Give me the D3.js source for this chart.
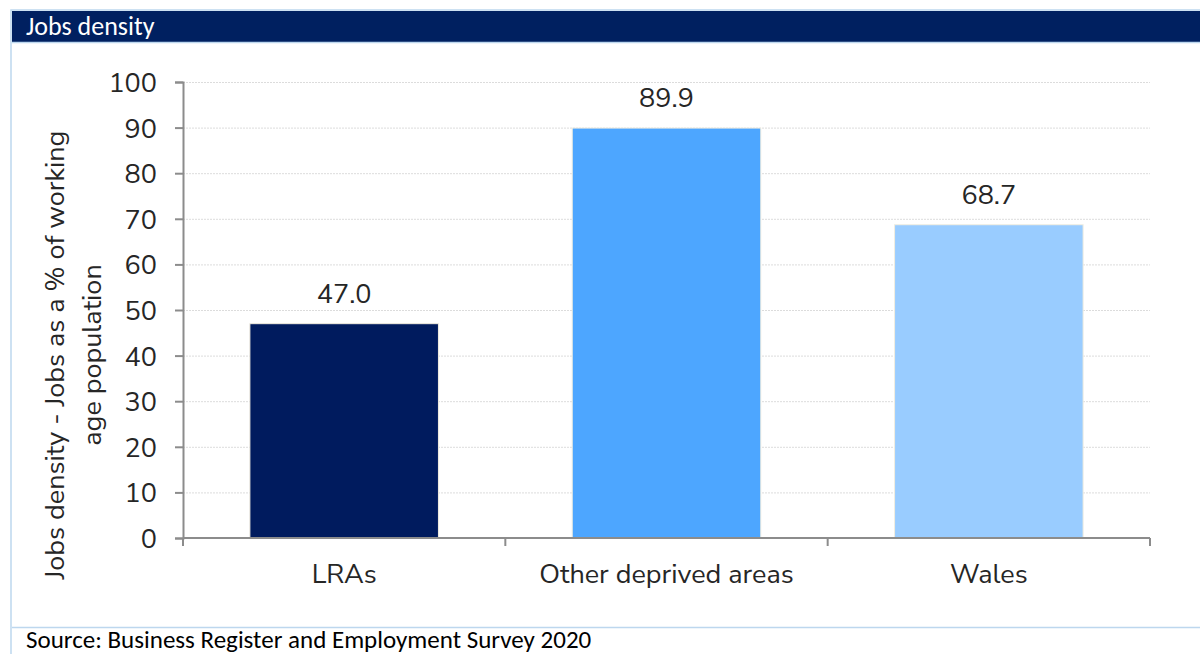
<!DOCTYPE html>
<html>
<head>
<meta charset="utf-8">
<script src="https://cdn.jsdelivr.net/npm/d3@7"></script>
<style>
  body { margin: 0; background: #fff; }
  svg { display: block; }
</style>
</head>
<body>
<svg id="chart" width="1200" height="654"></svg>
<script>
// Jobs density by area type
const categories = ["LRAs", "Other deprived areas", "Wales"];
const values = [47.0, 89.9, 68.7];
const barColors = ["#001b5e", "#4da6ff", "#99ccff"];
const yTicks = [0, 10, 20, 30, 40, 50, 60, 70, 80, 90, 100];

const svg = d3.select("#chart");
const font = "'Nunito Sans', 'Open Sans', sans-serif";
const panelFont = "Carlito, 'Open Sans', sans-serif";

// Panel frame and header
svg.append("rect").attr("x", 11).attr("y", 10).attr("width", 1200).attr("height", 700)
  .attr("fill", "none").attr("stroke", "#bdd7ee").attr("stroke-width", 1.5);
svg.append("rect").attr("x", 12).attr("y", 11).attr("width", 1188).attr("height", 31)
  .attr("fill", "#002060");
svg.append("line").attr("x1", 12).attr("x2", 1200).attr("y1", 42.5).attr("y2", 42.5)
  .attr("stroke", "#bdd7ee").attr("stroke-width", 1.5);
svg.append("text").attr("x", 26).attr("y", 35)
  .attr("fill", "#fff").attr("font-family", panelFont)
  .attr("font-size", 26).text("Jobs density");

svg.append("line").attr("x1", 12).attr("x2", 1200).attr("y1", 627.5).attr("y2", 627.5)
  .attr("stroke", "#bdd7ee").attr("stroke-width", 1.5);
svg.append("text").attr("x", 26).attr("y", 647.5)
  .attr("fill", "#000").attr("font-family", panelFont)
  .attr("font-size", 25).text("Source: Business Register and Employment Survey 2020");

// Plot area
const plotLeft = 183, plotRight = 1150, plotTop = 82, plotBottom = 538;
const x = d3.scaleBand().domain(categories).range([plotLeft, plotRight]).paddingInner(0.415).paddingOuter(0.2075);
const y = d3.scaleLinear().domain([0, 100]).range([plotBottom, plotTop]);

// Gridlines
svg.append("g").selectAll("line").data(yTicks.slice(1)).join("line")
  .attr("x1", plotLeft).attr("x2", plotRight)
  .attr("y1", d => y(d) + 0.5).attr("y2", d => y(d) + 0.5)
  .attr("stroke", "#dcdcdc").attr("stroke-width", 1).attr("stroke-dasharray", "2,1");

// Bars
svg.append("g").selectAll("rect").data(categories).join("rect")
  .attr("x", d => x(d)).attr("width", x.bandwidth())
  .attr("y", (d, i) => y(values[i])).attr("height", (d, i) => y(0) - y(values[i]))
  .attr("fill", (d, i) => barColors[i])
  .attr("stroke", "#f2eee0").attr("stroke-width", 1);

// Value labels
svg.append("g").selectAll("text").data(categories).join("text")
  .attr("x", d => x(d) + x.bandwidth() / 2)
  .attr("y", (d, i) => y(values[i]) - 21)
  .attr("text-anchor", "middle").attr("font-family", font).attr("font-size", 27)
  .attr("fill", "#262626")
  .text((d, i) => values[i].toFixed(1));

// Y axis
const yAxis = svg.append("g").attr("transform", `translate(${plotLeft},0)`)
  .call(d3.axisLeft(y).tickValues(yTicks).tickSize(8).tickPadding(18));
yAxis.select(".domain").attr("stroke", "#8c8c8c").attr("stroke-width", 2);
yAxis.selectAll(".tick line").attr("stroke", "#8c8c8c").attr("stroke-width", 2);
yAxis.selectAll(".tick text").attr("font-family", font).attr("font-size", 27)
  .attr("fill", "#262626").attr("dy", "0.35em");

// X axis with boundary ticks between categories
const xAxisG = svg.append("g");
xAxisG.append("line").attr("x1", plotLeft).attr("x2", plotRight).attr("y1", plotBottom).attr("y2", plotBottom)
  .attr("stroke", "#8c8c8c").attr("stroke-width", 2);
const bounds = categories.map(d => x(d) - x.step() * x.paddingInner() / 2);
bounds.push(plotRight);
bounds[0] = plotLeft;
xAxisG.selectAll("line.b").data(bounds).join("line").attr("class", "b")
  .attr("x1", d => d).attr("x2", d => d).attr("y1", plotBottom).attr("y2", plotBottom + 8)
  .attr("stroke", "#8c8c8c").attr("stroke-width", 2);
xAxisG.selectAll("text").data(categories).join("text")
  .attr("x", d => x(d) + x.bandwidth() / 2).attr("y", 583)
  .attr("text-anchor", "middle").attr("font-family", font).attr("font-size", 27)
  .attr("fill", "#262626").text(d => d);

// Y axis title
const yt = svg.append("text").attr("transform", "translate(64,355) rotate(-90)")
  .attr("text-anchor", "middle").attr("font-family", font).attr("font-size", 27)
  .attr("fill", "#262626");
yt.append("tspan").attr("x", 0).attr("dy", 0).text("Jobs density - Jobs as a % of working");
yt.append("tspan").attr("x", 0).attr("dy", 37).text("age population");
</script>
</body>
</html>
